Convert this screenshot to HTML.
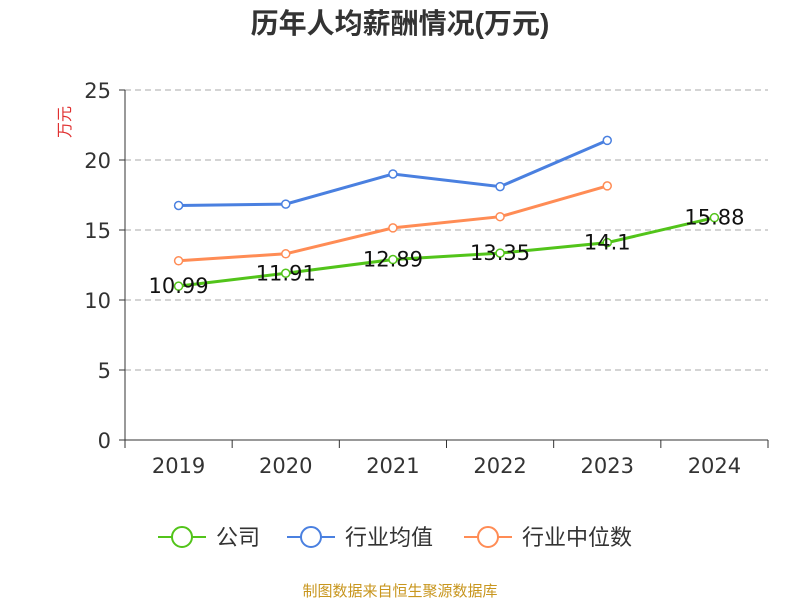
<!DOCTYPE html>
<html><head><meta charset="utf-8"><style>
body{margin:0;background:#fff;}
svg{font-family:"DejaVu Sans","Noto Sans CJK SC",sans-serif;}
</style></head><body>
<svg id="c" width="800" height="600">
<text x="400" y="33" text-anchor="middle" font-size="28" font-weight="bold" fill="#333" font-family="Liberation Sans, Noto Sans CJK SC, sans-serif">历年人均薪酬情况(万元)</text>
<text transform="translate(70,122) rotate(-90)" text-anchor="middle" font-size="16" fill="#e03030">万元</text>
<g id="grid"></g><g id="axes"></g><g id="series"></g>
<g>
<g><line x1="158" y1="537" x2="206" y2="537" stroke="#52c41a" stroke-width="2"/><circle cx="182" cy="537" r="10" fill="#fff" stroke="#52c41a" stroke-width="2"/><text x="216" y="545" font-size="22" fill="#333">公司</text></g>
<g><line x1="287" y1="537" x2="335" y2="537" stroke="#4a80e0" stroke-width="2"/><circle cx="311" cy="537" r="10" fill="#fff" stroke="#4a80e0" stroke-width="2"/><text x="345" y="545" font-size="22" fill="#333">行业均值</text></g>
<g><line x1="464" y1="537" x2="512" y2="537" stroke="#ff8c55" stroke-width="2"/><circle cx="488" cy="537" r="10" fill="#fff" stroke="#ff8c55" stroke-width="2"/><text x="522" y="545" font-size="22" fill="#333">行业中位数</text></g>
</g>
<text x="400" y="596" text-anchor="middle" font-size="15" fill="#c8961e">制图数据来自恒生聚源数据库</text>
</svg>
<script>
const categories=["2019","2020","2021","2022","2023","2024"];
const companyValues=[10.99,11.91,12.89,13.35,14.1,15.88];
const companyLabels=["10.99","11.91","12.89","13.35","14.1","15.88"];
const avgValues=[16.75,16.85,19.0,18.1,21.4,null];
const medianValues=[12.8,13.3,15.15,15.95,18.15,null];
const yTicks=[0,5,10,15,20,25];
const NS="http://www.w3.org/2000/svg";
const x0=125,x1=768,yBase=440,yTop=90,yMax=25;
const bw=(x1-x0)/categories.length;
const xs=i=>x0+bw*(i+0.5);
const ys=v=>yBase-(v/yMax)*(yBase-yTop);
function mk(tag,attrs,parent,txt){const e=document.createElementNS(NS,tag);for(const k in attrs)e.setAttribute(k,attrs[k]);if(txt!==undefined)e.textContent=txt;parent.appendChild(e);return e;}
const grid=document.getElementById('grid'),axes=document.getElementById('axes'),ser=document.getElementById('series');
yTicks.forEach(t=>{
 if(t>0){const g=mk('line',{x1:x0,x2:x1,y1:ys(t),y2:ys(t),stroke:'#aaa','stroke-dasharray':'6,4'},grid);
 
 }
 const tk=mk('line',{x1:x0-6,x2:x0,y1:ys(t),y2:ys(t),stroke:'#333'},axes);
 
 
 const lb=mk('text',{x:x0-14,y:ys(t)+8,'text-anchor':'end','font-size':21,fill:'#333'},axes,String(t));
 
 
});
const ya=mk('line',{x1:x0,x2:x0,y1:yTop,y2:yBase,stroke:'#333'},axes);


const xa=mk('line',{x1:x0,x2:x1,y1:yBase,y2:yBase,stroke:'#333'},axes);


for(let i=0;i<=categories.length;i++){const t=mk('line',{x1:x0+bw*i,x2:x0+bw*i,y1:yBase,y2:yBase+8,stroke:'#333'},axes);
 
 }
categories.forEach((c,i)=>{const t=mk('text',{x:xs(i),y:473,'text-anchor':'middle','font-size':21,fill:'#333'},axes,c);
 
 });
function line(vals,color,name){
 const pts=[];vals.forEach((v,i)=>{if(v!=null)pts.push([xs(i),ys(v)]);});
 const p=mk('polyline',{points:pts.map(p=>p.join(',')).join(' '),fill:'none',stroke:color,'stroke-width':3},ser);
 
 
 pts.forEach(q=>{const c=mk('circle',{cx:q[0],cy:q[1],r:4,fill:'#fff',stroke:color,'stroke-width':1.5},ser);
 
 });
}
line(avgValues,'#4a80e0','industry-avg');
line(medianValues,'#ff8c55','industry-median');
line(companyValues,'#52c41a','company');
companyValues.forEach((v,i)=>{const t=mk('text',{x:xs(i),y:ys(v)+7,'text-anchor':'middle','font-size':21,fill:'#111'},ser,companyLabels[i]);
 
 });
</script>
</body></html>
